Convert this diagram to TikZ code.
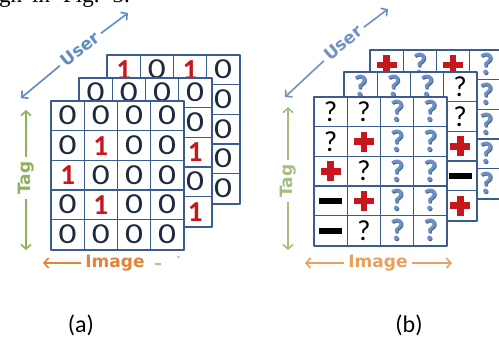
\documentclass[tikz,border=0pt]{standalone}
\usepackage{fontspec}
\setmainfont{Liberation Serif}
\newfontfamily\calib{Carlito}
\newfontfamily\labfont{DejaVu Sans}
\usetikzlibrary{arrows.meta}
\definecolor{gridblue}{HTML}{3A5C90}
\definecolor{onered}{HTML}{C8161D}
\definecolor{zeroink}{HTML}{1E2A40}
\definecolor{qblue}{HTML}{6E90C4}
\definecolor{qbluedark}{HTML}{41628F}
\definecolor{userblue}{HTML}{5E8CC8}
\definecolor{userblueb}{HTML}{7191C0}
\definecolor{taggreen}{HTML}{8DB25A}
\definecolor{taggreenb}{HTML}{A5BE7F}
\definecolor{imgorange}{HTML}{E3843A}
\definecolor{imgorangeb}{HTML}{E8A05C}
\tikzset{
  glyph/.style={anchor=base, inner sep=0pt, font=\calib\fontsize{29}{29}\selectfont},
  glyphb/.style={anchor=base, inner sep=0pt, font=\calib\bfseries\fontsize{29}{29}\selectfont},
  glyphq/.style={anchor=base, inner sep=0pt, font=\calib\bfseries\fontsize{31}{31}\selectfont},
  gridin/.style={draw=gridblue, line width=1.3pt},
  gridout/.style={draw=gridblue, line width=2pt, line join=round},
  axisarrow/.style={line width=1.6pt, -{Straight Barb[length=4.5pt,width=10pt]}},
  lab/.style={inner sep=4pt, font=\labfont\bfseries\fontsize{17}{17}\selectfont},
  caption/.style={inner sep=0pt, font=\calib\fontsize{24}{24}\selectfont},
}
% cell contents: #1 x, #2 y (cell centre), #3 name
\newcommand\cZ[3]{\node[glyph, text=zeroink, xscale=1.22] (#3) at (#1,#2+9) {0};}
\newcommand\cO[3]{\node[glyphb, text=onered] (#3) at (#1,#2+9.5) {1};}
\newcommand\cQ[3]{\node[glyph, text=black] (#3) at (#1,#2+9.5) {?};}
\newcommand\cB[3]{\node[glyphq, text=qbluedark] (#3s) at (#1+0.8,#2+10.8) {?};
  \node[glyphq, text=qblue] (#3) at (#1,#2+10) {?};}
\newcommand\cP[3]{\coordinate (#3) at (#1,#2);
  \fill[onered] (#1-10,#2-3.3) rectangle (#1+10,#2+3.3);
  \fill[onered] (#1-3.3,#2-10) rectangle (#1+3.3,#2+10);}
\newcommand\cM[3]{\coordinate (#3) at (#1,#2);
  \fill[black] (#1-11.5,#2-2.9) rectangle (#1+11.5,#2+2.9);}
% grid: #1 name, #2 x0, #3 y0, #4 list of 20 cell types
\newcommand\mygrid[4]{%
  \fill[white] (#2,#3) rectangle ++(132.8,148.5);
  \foreach \ct [count=\i from 0] in {#4} {
    \pgfmathtruncatemacro\rr{int(\i/4)}
    \pgfmathtruncatemacro\cc{mod(\i,4)}
    \pgfmathsetmacro\cx{#2+(\cc+0.5)*33.2}
    \pgfmathsetmacro\cy{#3+(\rr+0.5)*29.7}
    \csname c\ct\endcsname{\cx}{\cy}{#1-\i}
  }
  \foreach \k in {1,2,3} \draw[gridin] (#2+\k*33.2,#3) -- ++(0,148.5);
  \foreach \k in {1,2,3,4} \draw[gridin] (#2,#3+\k*29.7) -- ++(132.8,0);
  \draw[gridout] (#2,#3) rectangle ++(132.8,148.5);
}
\begin{document}
\begin{tikzpicture}[x=1pt,y=-1pt]
\useasboundingbox (0,0) rectangle (499,341);
\clip (0,0) rectangle (499,341);
\fill[white] (0,0) rectangle (499,341);

% fragment of text above the figure
\node[anchor=base west, inner sep=0pt, font=\fontsize{23}{23}\selectfont] (toptext) at (-1,2)
  {gh\hspace{10pt}in\hspace{13pt}Fig.\hspace{13pt}3.};

% ---------- panel (a) ----------
\mygrid{ab}{107}{55}{O,Z,O,Z, Z,Z,Z,Z, Z,Z,Z,Z, Z,Z,Z,Z, Z,Z,Z,Z}
\mygrid{am}{79}{78}{Z,Z,Z,Z, Z,Z,Z,Z, Z,Z,Z,O, Z,Z,Z,Z, Z,Z,Z,O}
\mygrid{af}{51}{101}{Z,Z,Z,Z, Z,O,Z,Z, O,Z,Z,Z, Z,O,Z,Z, Z,Z,Z,Z}

\node[lab, text=userblue, rotate=38.5] (usera) at (80,49) {User};
\coordinate (ua1) at (21,98);
\coordinate (ua2) at (128,13);
\draw[axisarrow, userblue] (usera) -- (ua1);
\draw[axisarrow, userblue] (usera) -- (ua2);

\node[lab, text=taggreen, rotate=90] (taga) at (26,178) {Tag};
\coordinate (ta1) at (26,110);
\coordinate (ta2) at (26,250);
\draw[axisarrow, taggreen] (taga) -- (ta1);
\draw[axisarrow, taggreen] (taga) -- (ta2);

\node[lab, text=imgorange] (imagea) at (115,263) {Image};
\coordinate (ia1) at (43,263);
\draw[axisarrow, imgorange] (imagea) -- (ia1);
\coordinate (ia2) at (155,264);
\coordinate (ia3) at (161,264);
\coordinate (ia4) at (177,257);
\coordinate (ia5) at (180,257);
\draw[imgorange!70, line width=1.4pt] (ia2) -- (ia3);
\draw[imgorange!50, line width=1.2pt] (ia4) -- (ia5);

\node[caption] (capa) at (81,325) {(a)};

% ---------- panel (b) ----------
\mygrid{bb}{370}{50}{P,B,P,B, B,B,B,B, B,B,B,B, B,B,B,B, B,B,B,B}
\mygrid{bm}{344}{72}{B,B,B,Q, B,B,B,Q, B,B,B,P, B,B,B,M, B,B,B,P}
\mygrid{bf}{314}{97}{Q,Q,B,B, Q,P,B,B, P,Q,B,B, M,P,B,B, M,Q,B,B}

\node[lab, text=userblueb, rotate=40] (userb) at (343,43) {User};
\coordinate (ub1) at (285,97);
\coordinate (ub2) at (388,9);
\draw[axisarrow, userblueb] (userb) -- (ub1);
\draw[axisarrow, userblueb] (userb) -- (ub2);

\node[lab, text=taggreenb, rotate=90] (tagb) at (288,181) {Tag};
\coordinate (tb1) at (288,107);
\coordinate (tb2) at (288,250);
\draw[axisarrow, taggreenb] (tagb) -- (tb1);
\draw[axisarrow, taggreenb] (tagb) -- (tb2);

\node[lab, text=imgorangeb] (imageb) at (378,263) {Image};
\coordinate (ib1) at (305,263);
\coordinate (ib2) at (452,263);
\draw[axisarrow, imgorangeb] (imageb) -- (ib1);
\draw[axisarrow, imgorangeb] (imageb) -- (ib2);

\node[caption] (capb) at (409,325) {(b)};
\end{tikzpicture}
\end{document}
